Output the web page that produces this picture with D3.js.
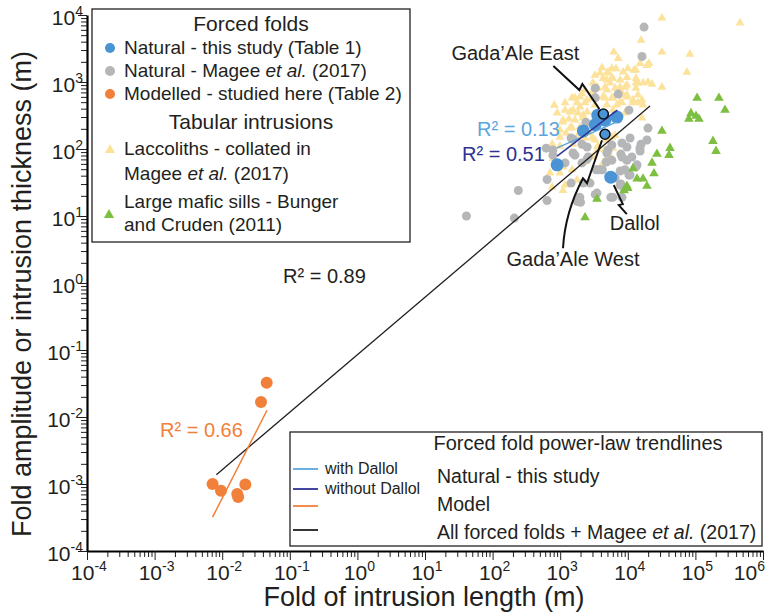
<!DOCTYPE html>
<html>
<head>
<meta charset="utf-8">
<script src="https://cdn.jsdelivr.net/npm/d3@7"></script>
<style>
  body { margin: 0; background: #fff; }
  svg { font-family: "Liberation Sans", Arial, sans-serif; }
</style>
</head>
<body>
<div id="chart"></div>
<script>
// fold amplitude / intrusion thickness vs. fold / intrusion length (log-log)

// forced folds - natural, this study (Table 1)
var naturalThisStudy = [[900, 58], [2200, 186], [3300, 230], [3600, 320], [4600, 270], [6900, 300], [5600, 38]];
// the two Gada'Ale folds (circled)
var gadaAle = [["Gada’Ale East", 4350, 333], ["Gada’Ale West", 4600, 166]];

// forced folds - natural, Magee et al. (2017)
var naturalMagee = [
  [17400, 6600], [16200, 2400], [7200, 660], [3300, 580], [10400, 380], [19900, 205], [9700, 107],
  [15700, 118], [15200, 93], [7900, 84], [8200, 76], [11500, 76], [9700, 68], [5100, 97], [4800, 64],
  [13700, 58], [7700, 47], [10400, 41], [4200, 49], [7900, 30], [8800, 26], [5600, 19], [240, 24],
  [640, 35], [640, 17], [210, 9.3], [41, 10], [1550, 140], [2100, 118], [4900, 87], [2500, 71],
  [3600, 49], [5800, 68], [2200, 31], [1450, 31], [3300, 21], [6000, 19], [2500, 107], [2600, 76],
  [1650, 81], [1450, 146], [780, 97], [2100, 62], [2000, 16], [3500, 22], [7700, 29], [8200, 19],
  [620, 103], [780, 81], [1180, 62], [1550, 87], [3400, 49], [3900, 49], [5800, 115], [8200, 123],
  [10800, 146], [15100, 103], [19200, 136], [9100, 49], [13200, 54], [6500, 37], [10800, 41],
  [2760, 31], [1950, 19], [1780, 16.5], [3300, 810], [2400, 250], [2300, 180]
];

// forced folds - modelled (Table 2)
var modelled = [[0.0455, 0.0325], [0.0375, 0.0168], [0.0072, 0.0010], [0.0096, 0.00079],
  [0.0167, 0.00071], [0.0172, 0.00064], [0.022, 0.00098]];

// tabular intrusions - laccoliths (Magee et al. 2017)
var laccoliths = [
  [32000, 9000], [457000, 7600], [15700, 4200], [6200, 2800], [32000, 2800], [83000, 2600], [7200, 2250],
  [15200, 1890], [20600, 1900], [75000, 1400], [6700, 1580], [8500, 1410], [10000, 1580], [12300, 1500],
  [4900, 1360], [9700, 1170], [6000, 1130], [5450, 970], [14100, 970], [16800, 970], [19900, 1000],
  [22800, 930], [32000, 840], [4600, 840], [6500, 810], [7700, 840], [8500, 640], [14100, 640],
  [16200, 540], [6000, 580], [4600, 580], [6900, 455], [16800, 455], [16200, 290], [6500, 160], [5100, 81],
  [3900, 1360], [4900, 1070], [5800, 1580], [3500, 840], [7700, 760], [9700, 900], [13200, 970],
  [1650, 580], [2100, 670], [2500, 540], [3050, 710], [1550, 380], [1960, 425], [2170, 320], [1180, 380],
  [1350, 280], [1400, 206], [1100, 270], [1220, 173], [990, 150], [1960, 213], [1770, 146], [2330, 146],
  [2760, 173], [3270, 136], [4900, 136], [5800, 150], [6000, 103], [5100, 97], [3600, 100], [3050, 76],
  [4300, 62], [1500, 49], [1770, 34.5], [1180, 29], [1100, 24], [9700, 600], [11900, 490], [6000, 380],
  [7700, 500], [760, 118], [990, 44], [4150, 1640], [5100, 1410], [13200, 1510], [19200, 1760],
  [3270, 1260], [4300, 1130], [5800, 1170], [7700, 1070], [13200, 1130], [3050, 970], [2330, 760],
  [3600, 810], [4900, 760], [9100, 840], [13200, 810], [1500, 580], [1960, 600], [2950, 580], [4300, 600],
  [5800, 580], [9700, 640], [11900, 540], [1180, 490], [1770, 490], [2330, 490], [3270, 455], [4900, 455],
  [8200, 490], [14100, 490], [900, 345], [1400, 357], [1830, 345], [2500, 357], [9100, 345], [1100, 253],
  [1650, 271], [2170, 290], [3050, 253], [990, 192], [1500, 206], [1960, 180], [1550, 118], [2170, 110],
  [2950, 146], [3600, 110], [4600, 97], [5450, 81], [2330, 64], [706, 44], [990, 110], [780, 72],
  [1100, 54], [760, 27], [820, 450]
];

// tabular intrusions - large mafic sills (Bunger and Cruden 2011)
var maficSills = [
  [106000, 577], [223000, 577], [274000, 382], [86000, 340], [102000, 310], [80000, 280], [113000, 280],
  [32000, 185], [182000, 131], [42100, 103], [202000, 93], [40700, 81], [27000, 84], [22800, 62],
  [11900, 51], [24400, 43], [13700, 36], [16800, 36], [19200, 28], [9700, 28], [8800, 24], [3500, 18],
  [2330, 9.5], [10000, 26]
];

// power-law trendlines y = a * x^b
var trendNames = ["all", "model", "withDallol", "withoutDallol"];
var trendA = [0.085, 5.6, 5.2, 0.416];
var trendB = [0.858, 1.98, 0.44, 0.77];
var trendFrom = [0.0082, 0.0072, 900, 900];
var trendTo = [21300, 0.046, 6900, 7000];
var trendR2 = ["0.89", "0.66", "0.13", "0.51"];

// axis decades
var xDecades = d3.range(-4, 7);
var yDecades = d3.range(-4, 5);

var colors = {
  blue: "#4a93d4", gray: "#b5b6b8", orange: "#f1803a",
  yellow: "#fde29c", green: "#7dbf41",
  lightBlue: "#5aa6de", darkBlue: "#2e3192", black: "#231f20"
};
var trendColor = [colors.black, colors.orange, colors.lightBlue, colors.darkBlue];
var trendWidth = [1.3, 1.5, 1.5, 1.4];

var svgWidth = 766;
var svgHeight = 615;

var svg = d3.select("#chart")
  .append("svg")
  .attr("width", svgWidth)
  .attr("height", svgHeight);

var x = d3.scaleLog().domain([1e-4, 1e6]).range([87, 763]);
var y = d3.scaleLog().domain([1e-4, 1e4]).range([551, 15]);

// ---- axes ----
var minorX = [], minorY = [];
xDecades.slice(0, -1).forEach(function(e) { for (var k = 2; k < 10; k++) minorX.push(k * Math.pow(10, e)); });
yDecades.slice(0, -1).forEach(function(e) { for (var k = 2; k < 10; k++) minorY.push(k * Math.pow(10, e)); });

var xAxisG = svg.append("g").attr("transform", "translate(0," + y.range()[0] + ")");
xAxisG.append("g")
  .call(d3.axisBottom(x).tickValues(minorX).tickSize(6).tickFormat(""))
  .call(function(g) { g.select(".domain").remove(); });
xAxisG.append("g")
  .call(d3.axisBottom(x).tickValues(xDecades.map(function(e) { return Math.pow(10, e); })).tickSize(9).tickSizeOuter(0).tickFormat(""))
  .call(function(g) { g.select(".domain").attr("stroke-width", 2.2); });

var yAxisG = svg.append("g").attr("transform", "translate(" + x.range()[0] + ",0)");
yAxisG.append("g")
  .call(d3.axisLeft(y).tickValues(minorY).tickSize(6).tickFormat(""))
  .call(function(g) { g.select(".domain").remove(); });
yAxisG.append("g")
  .call(d3.axisLeft(y).tickValues(yDecades.map(function(e) { return Math.pow(10, e); })).tickSize(9).tickSizeOuter(0).tickFormat(""))
  .call(function(g) { g.select(".domain").attr("stroke-width", 2.2); });

svg.selectAll(".tick line").attr("stroke", "#231f20").attr("stroke-width", 1);

// power-of-ten labels
function powLabel(sel, e) {
  sel.append("tspan").text("10");
  sel.append("tspan").attr("dy", -9).attr("font-size", 14).text(e);
}
xDecades.forEach(function(e, i) {
  var last = i === xDecades.length - 1;
  svg.append("text")
    .attr("x", last ? 765 : x(Math.pow(10, e)) + 2)
    .attr("y", 580)
    .attr("text-anchor", last ? "end" : "middle")
    .attr("font-size", 21)
    .attr("fill", "#231f20")
    .call(powLabel, e);
});
yDecades.forEach(function(e) {
  svg.append("text")
    .attr("x", 83)
    .attr("y", y(Math.pow(10, e)) + 10)
    .attr("text-anchor", "end")
    .attr("font-size", 21)
    .attr("fill", "#231f20")
    .call(powLabel, e);
});

// axis titles
svg.append("text")
  .attr("x", 424).attr("y", 606)
  .attr("text-anchor", "middle")
  .attr("font-size", 27)
  .attr("fill", "#231f20")
  .text("Fold of intrusion length (m)");

svg.append("text")
  .attr("transform", "translate(31,294) rotate(-90)")
  .attr("text-anchor", "middle")
  .attr("font-size", 27)
  .attr("fill", "#231f20")
  .text("Fold amplitude or intrusion thickness (m)");

// ---- points ----
var plot = svg.append("g");
var triangle = d3.symbol().type(d3.symbolTriangle);

plot.selectAll(".lacc")
  .data(laccoliths).enter().append("path")
  .attr("d", triangle.size(34)())
  .attr("transform", function(d) { return "translate(" + x(d[0]) + "," + y(d[1]) + ")"; })
  .attr("fill", colors.yellow);

plot.selectAll(".magee")
  .data(naturalMagee).enter().append("circle")
  .attr("cx", function(d) { return x(d[0]); })
  .attr("cy", function(d) { return y(d[1]); })
  .attr("r", 4.5)
  .attr("fill", colors.gray);

plot.selectAll(".sill")
  .data(maficSills).enter().append("path")
  .attr("d", triangle.size(40)())
  .attr("transform", function(d) { return "translate(" + x(d[0]) + "," + y(d[1]) + ")"; })
  .attr("fill", colors.green);

// trendlines
var lineGen = d3.line()
  .x(function(d) { return x(d[0]); })
  .y(function(d) { return y(d[1]); });

function drawTrend(i) {
  var pts = [trendFrom[i], trendTo[i]].map(function(v) { return [v, trendA[i] * Math.pow(v, trendB[i])]; });
  plot.append("path")
    .attr("d", lineGen(pts))
    .attr("fill", "none")
    .attr("stroke", trendColor[i])
    .attr("stroke-width", trendWidth[i]);
}

drawTrend(0);

plot.selectAll(".study")
  .data(naturalThisStudy).enter().append("circle")
  .attr("cx", function(d) { return x(d[0]); })
  .attr("cy", function(d) { return y(d[1]); })
  .attr("r", 6.5)
  .attr("fill", colors.blue);

plot.selectAll(".model")
  .data(modelled).enter().append("circle")
  .attr("cx", function(d) { return x(d[0]); })
  .attr("cy", function(d) { return y(d[1]); })
  .attr("r", 6)
  .attr("fill", colors.orange);

drawTrend(1);
drawTrend(2);
drawTrend(3);

plot.selectAll(".gada")
  .data(gadaAle).enter().append("circle")
  .attr("cx", function(d) { return x(d[1]); })
  .attr("cy", function(d) { return y(d[2]); })
  .attr("r", 5)
  .attr("fill", colors.blue)
  .attr("stroke", "#111")
  .attr("stroke-width", 1.6);

// R² labels
var r2Pos = [[283, 283], [160, 437], [477, 136], [462, 161]];
trendR2.forEach(function(r, i) {
  svg.append("text")
    .attr("x", r2Pos[i][0]).attr("y", r2Pos[i][1])
    .attr("font-size", 20)
    .attr("fill", trendColor[i])
    .text("R² = " + r);
});

// ---- annotations (leader offsets relative to the point) ----
var notes = [
  { label: gadaAle[0][0], at: [gadaAle[0][1], gadaAle[0][2]], text: [-88, -54],
    path: function(px, py) { return "M" + (px - 50) + "," + (py - 48) + "L" + (px - 24) + "," + (py - 24) + "L" + (px - 21) + "," + (py - 30) + "L" + (px - 4) + "," + (py - 5); } },
  { label: gadaAle[1][0], at: [gadaAle[1][1], gadaAle[1][2]], text: [-32, 132],
    path: function(px, py) { return "M" + (px - 42) + "," + (py + 114) + "Q" + (px - 40) + "," + (py + 78) + " " + (px - 22) + "," + (py + 44) + "L" + (px - 18) + "," + (py + 49) + "L" + (px - 3) + "," + (py + 6); } },
  { label: "Dallol", at: naturalThisStudy[6], text: [24, 53],
    path: function(px, py) { return "M" + (px + 3) + "," + (py + 8) + "L" + (px + 12) + "," + (py + 27) + "L" + (px + 8) + "," + (py + 28) + "L" + (px + 16) + "," + (py + 37); } }
];
notes.forEach(function(n) {
  var px = x(n.at[0]), py = y(n.at[1]);
  svg.append("path")
    .attr("d", n.path(px, py))
    .attr("fill", "none")
    .attr("stroke", "#111")
    .attr("stroke-width", 2);
  svg.append("text")
    .attr("x", px + n.text[0]).attr("y", py + n.text[1])
    .attr("text-anchor", "middle")
    .attr("font-size", 20)
    .attr("fill", "#231f20")
    .text(n.label);
});

// ---- legend: point symbols ----
var leg = svg.append("g").attr("fill", "#231f20");
leg.append("rect")
  .attr("x", 92).attr("y", 9).attr("width", 318).attr("height", 233)
  .attr("fill", "#fff").attr("stroke", "#231f20").attr("stroke-width", 1.3);

leg.append("text").attr("x", 251).attr("y", 31).attr("text-anchor", "middle").attr("font-size", 21).text("Forced folds");
leg.append("text").attr("x", 251).attr("y", 129).attr("text-anchor", "middle").attr("font-size", 21).text("Tabular intrusions");

function legText(yy, parts) {
  var t = leg.append("text").attr("x", 124).attr("y", yy).attr("font-size", 19);
  parts.forEach(function(p) {
    t.append("tspan").attr("font-style", p[1] ? "italic" : null).text(p[0]);
  });
}
leg.append("circle").attr("cx", 110).attr("cy", 48).attr("r", 5).attr("fill", colors.blue);
legText(54, [["Natural - this study (Table 1)"]]);
leg.append("circle").attr("cx", 110).attr("cy", 71).attr("r", 5).attr("fill", colors.gray);
legText(77, [["Natural - Magee "], ["et al.", true], [" (2017)"]]);
leg.append("circle").attr("cx", 110).attr("cy", 94).attr("r", 5).attr("fill", colors.orange);
legText(100, [["Modelled - studied here (Table 2)"]]);
leg.append("path").attr("d", triangle.size(45)()).attr("transform", "translate(110,150)").attr("fill", colors.yellow);
legText(155, [["Laccoliths - collated in"]]);
legText(180, [["Magee "], ["et al.", true], [" (2017)"]]);
leg.append("path").attr("d", triangle.size(45)()).attr("transform", "translate(109,215)").attr("fill", colors.green);
legText(208, [["Large mafic sills - Bunger"]]);
legText(231, [["and Cruden (2011)"]]);

// ---- legend: trendlines ----
var leg2 = svg.append("g").attr("fill", "#231f20");
leg2.append("rect")
  .attr("x", 290).attr("y", 432).attr("width", 472).attr("height", 114)
  .attr("fill", "#fff").attr("stroke", "#231f20").attr("stroke-width", 1.3);
leg2.append("text").attr("x", 578).attr("y", 450).attr("text-anchor", "middle").attr("font-size", 20)
  .text("Forced fold power-law trendlines");

var sampleY = [530, 506, 469, 489];
trendNames.forEach(function(n, i) {
  leg2.append("line")
    .attr("x1", 293).attr("x2", 318)
    .attr("y1", sampleY[i]).attr("y2", sampleY[i])
    .attr("stroke", trendColor[i]).attr("stroke-width", 1.8);
});
leg2.append("text").attr("x", 325).attr("y", 474).attr("font-size", 16).text("with Dallol");
leg2.append("text").attr("x", 325).attr("y", 494).attr("font-size", 16).text("without Dallol");
leg2.append("text").attr("x", 437).attr("y", 483).attr("font-size", 19.5).text("Natural - this study");
leg2.append("text").attr("x", 437).attr("y", 511).attr("font-size", 19.5).text("Model");
var allText = leg2.append("text").attr("x", 437).attr("y", 539).attr("font-size", 19.5);
allText.append("tspan").text("All forced folds + Magee ");
allText.append("tspan").attr("font-style", "italic").text("et al.");
allText.append("tspan").text(" (2017)");
</script>
</body>
</html>
